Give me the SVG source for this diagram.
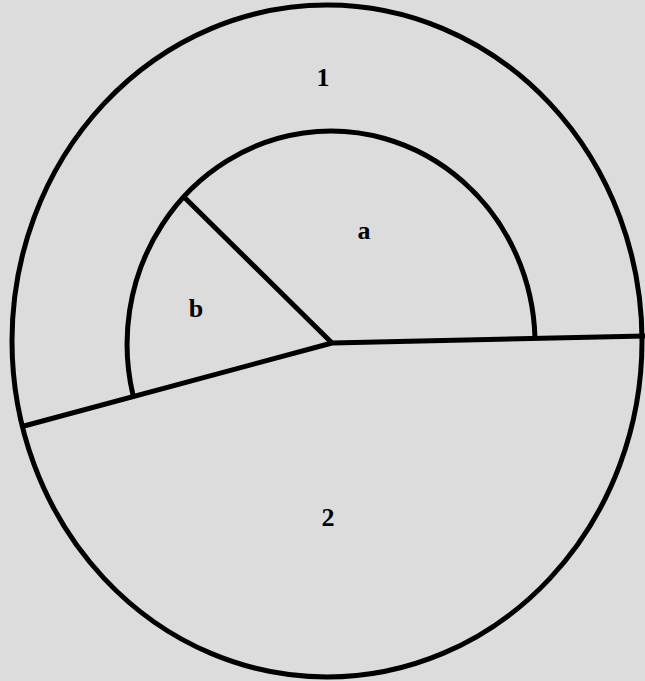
<svg xmlns="http://www.w3.org/2000/svg" width="645" height="681" viewBox="0 0 645 681">
<style>
.ln{fill:none;stroke:#000;stroke-width:5;stroke-linecap:butt;stroke-linejoin:round}
.lb{font-family:"Liberation Serif",serif;font-weight:bold;font-size:26px;fill:#000;text-anchor:middle}
</style>
<rect width="645" height="681" fill="#dcdcdc"/>
<g id="outer"><ellipse class="ln" cx="327" cy="341" rx="315" ry="336"/></g>
<g id="inner"><path class="ln" d="M133,395 A204,213 0 1 1 535,338"/></g>
<g id="connectors">
<path class="ln" d="M645,336 L332,343 L24,426"/>
<path class="ln" d="M332,343 L184,197"/>
</g>
<g id="l1"><text class="lb" x="323" y="86">1</text></g>
<g id="la"><text class="lb" x="364" y="239">a</text></g>
<g id="lb"><text class="lb" x="196" y="317">b</text></g>
<g id="l2"><text class="lb" x="328" y="526">2</text></g>
</svg>
